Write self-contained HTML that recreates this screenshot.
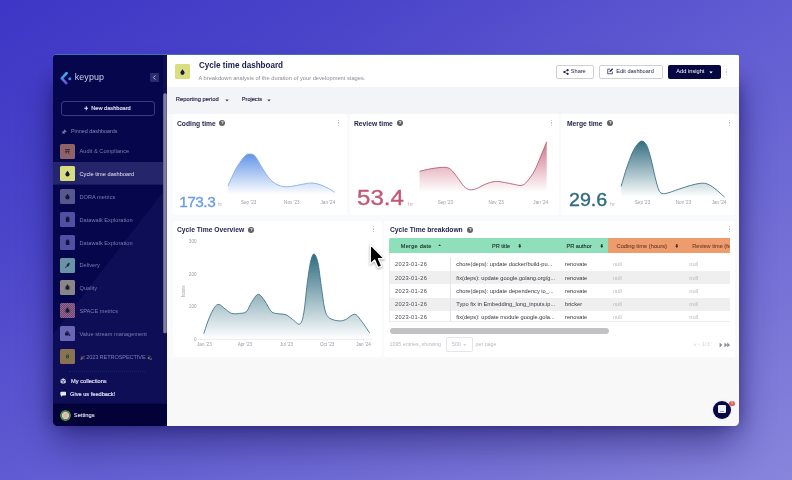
<!DOCTYPE html>
<html><head><meta charset="utf-8"><title>Cycle time dashboard</title>
<style>
*{box-sizing:border-box;margin:0;padding:0}
html,body{width:792px;height:480px;overflow:hidden}
body{position:relative;font-family:"Liberation Sans",sans-serif;background:linear-gradient(148deg,#3d36c6 0%,#4b45ca 25%,#625dd2 52%,#7571d6 78%,#8885dc 100%);}
#shadow{position:absolute;left:66px;top:80px;width:660px;height:334px;border-radius:6px;box-shadow:0 18px 34px 14px rgba(24,18,90,.48),0 8px 14px 2px rgba(24,18,90,.4)}
#shadow2{position:absolute;left:56px;top:84px;width:680px;height:334px;box-shadow:0 2px 14px 4px rgba(24,18,90,.38)}
#win{position:absolute;left:53px;top:55px;width:686px;height:371px;overflow:hidden;border-radius:1.5px 1.5px 4.5px 4.5px;background:#f8f8f8}
#pg{position:absolute;left:-53px;top:-55px;width:792px;height:480px}
#pg div,#pg span,#pg svg{position:absolute}
.t{white-space:nowrap;line-height:1}
/* sidebar */
#sb{left:53px;top:55px;width:114px;height:371px;background:#06064d}
.ic{width:15px;height:15px;left:60px;border-radius:1.5px}
.si{left:79.5px;font-size:5.6px;color:#7c7cae;letter-spacing:.03px}
.card{background:#fff;border-radius:3px}
.ct{font-weight:bold;font-size:7.6px;color:#1e1e50;transform:scaleX(.885);transform-origin:0 50%}
.info{width:6px;height:6px;border-radius:50%;background:#626266;color:#fff;font-size:4.4px;font-weight:bold;text-align:center;line-height:6.2px}
.kb{width:1.3px;height:6px;background:repeating-linear-gradient(#c6c6ce 0 1.3px,transparent 1.3px 2.35px)}
.num{-webkit-text-stroke:.35px currentColor}
.ax{font-size:4.6px;color:#9a9aa4}
.th{font-size:5.6px;color:#1a2e28;top:243.7px;-webkit-text-stroke:.12px currentColor}
.td{font-size:5.7px;color:#34343e}
.nl{font-size:5.6px;color:#b8b8c0}
</style></head><body>
<div id="shadow"></div><div id="shadow2"></div>
<div id="win"><div id="pg">
<!-- SIDEBAR -->
<div id="sb"></div>
<svg style="left:53px;top:55px" width="114" height="371" viewBox="53 55 114 371"><polygon points="167,187 167,404 53,404 53,334" fill="#0e0e57"/><rect x="53" y="162" width="110" height="22.6" fill="#25256b"/><rect x="53" y="403.6" width="114" height="23" fill="#020238"/><rect x="163.2" y="55" width="3.8" height="349" fill="#0e0e52"/><rect x="163.2" y="93.3" width="3.6" height="240" rx="1.6" fill="#7e7e9e"/></svg>

<!-- logo -->
<svg style="left:60.4px;top:71.9px" width="12" height="13" viewBox="0 0 12 13"><defs><linearGradient id="lg" x1="0" y1="0" x2="0" y2="1"><stop offset="0" stop-color="#39b6f0"/><stop offset=".55" stop-color="#4a8ce8"/><stop offset="1" stop-color="#6a4fd0"/></linearGradient></defs><path d="M6.6 1.2 L1.8 6.4 L6.2 11.2" fill="none" stroke="url(#lg)" stroke-width="2.6" stroke-linecap="round" stroke-linejoin="round"/><circle cx="9.8" cy="6.7" r="1.5" fill="#3f8ff0"/></svg>
<div class="t" style="left:74.8px;top:72.7px;font-size:8.9px;color:#cdd0ea;letter-spacing:.1px">keypup</div>
<div style="left:150px;top:73px;width:9px;height:9px;background:#2a2a6c;border-radius:1px"></div>
<svg style="left:150px;top:73px" width="9" height="9" viewBox="0 0 9 9"><path d="M5.4 2.4 L3.4 4.5 L5.4 6.6" fill="none" stroke="#b9b9d8" stroke-width="1"/></svg>
<div style="left:61px;top:100.5px;width:94px;height:15.5px;border:1px solid #3a3a80;border-radius:3px"></div>
<svg style="left:83.6px;top:106.2px" width="4.6" height="4.6" viewBox="0 0 5 5"><path d="M2.5 .3 V4.7 M.3 2.5 H4.7" stroke="#e6e6f6" stroke-width="1.1"/></svg>
<div class="t" style="left:91.2px;top:105.9px;font-size:5.65px;color:#e2e2f4;-webkit-text-stroke:.15px #e2e2f4">New dashboard</div>
<svg style="left:61px;top:128.5px" width="6" height="6" viewBox="0 0 6 6"><path d="M3.4 .6 L5.4 2.6 L4.3 2.9 L3.4 3.8 L3.1 4.9 L1.1 2.9 L2.2 2.6 L3.1 1.7Z M1.9 4.1 L.6 5.4" fill="#77779f" stroke="#77779f" stroke-width=".5"/></svg>
<div class="t" style="left:71px;top:129.2px;font-size:5.4px;color:#8686b4">Pinned dashboards</div>
<div class="ic" style="top:143.5px;background:#8e6266"></div><svg style="left:64px;top:147.5px" width="7" height="7" viewBox="0 0 7 7"><path d="M1 1.6 H6 M1.4 3.2 H5.6 M2 3.2 V5.6 M4.4 3.2 V5 M4.4 5 L5.6 6" stroke="#2a1a30" stroke-width=".8" fill="none"/></svg><div class="t si" style="top:149.4px;">Audit &amp; Compliance</div>
<div class="ic" style="top:166.3px;background:#d8dc80"></div><svg style="left:64px;top:170.3px" width="7" height="7" viewBox="0 0 7 7"><path d="M3.5 .8 C4.5 2.2 5.6 3.2 5.6 4.4 A2.1 2.1 0 0 1 1.4 4.4 C1.4 3.2 2.5 2.2 3.5 .8Z" fill="#15153a"/></svg><div class="t si" style="top:172.2px;color:#e6e6f6">Cycle time dashboard</div>
<div class="ic" style="top:189.1px;background:#57578f"></div><svg style="left:64px;top:193.1px" width="7" height="7" viewBox="0 0 7 7"><path d="M3.5 .8 C4.5 2.2 5.6 3.2 5.6 4.4 A2.1 2.1 0 0 1 1.4 4.4 C1.4 3.2 2.5 2.2 3.5 .8Z" fill="#15153a"/></svg><div class="t si" style="top:195.0px;">DORA metrics</div>
<div class="ic" style="top:211.9px;background:#4f4fa4"></div><svg style="left:64px;top:215.9px" width="7" height="7" viewBox="0 0 7 7"><rect x="1.8" y="1.2" width="3.6" height="4.8" rx=".7" fill="#15153a"/><rect x="2.7" y=".6" width="1.8" height="1.2" fill="#15153a"/></svg><div class="t si" style="top:217.8px;">Datawalk Exploration</div>
<div class="ic" style="top:234.7px;background:#4f4fa4"></div><svg style="left:64px;top:238.7px" width="7" height="7" viewBox="0 0 7 7"><rect x="1.8" y="1.2" width="3.6" height="4.8" rx=".7" fill="#15153a"/><rect x="2.7" y=".6" width="1.8" height="1.2" fill="#15153a"/></svg><div class="t si" style="top:240.6px;">Datawalk Exploration</div>
<div class="ic" style="top:257.5px;background:#6a93a6"></div><svg style="left:64px;top:261.5px" width="7" height="7" viewBox="0 0 7 7"><path d="M5.8 .8 C4 1 2.6 2.4 2.2 4.2 L3 5 C4.6 4.6 5.8 3 5.8 .8Z M1.6 4.6 L1 6.2 L2.6 5.6Z" fill="#1a2a40"/></svg><div class="t si" style="top:263.4px;">Delivery</div>
<div class="ic" style="top:280.3px;background:#8a8688"></div><svg style="left:64px;top:284.3px" width="7" height="7" viewBox="0 0 7 7"><ellipse cx="3.5" cy="3.8" rx="1.7" ry="2.1" fill="#1a1a30"/><circle cx="3.5" cy="1.6" r="1" fill="#1a1a30"/><path d="M.8 3 L6.2 3 M.8 4.8 L6.2 4.8" stroke="#1a1a30" stroke-width=".6"/></svg><div class="t si" style="top:286.2px;">Quality</div>
<div class="ic" style="top:303.1px;background:#86587e;background-image:repeating-conic-gradient(#a8646e 0 25%,#5a4a92 0 50%);background-size:2px 2px"></div><svg style="left:64px;top:307.1px" width="7" height="7" viewBox="0 0 7 7"><ellipse cx="3.5" cy="3.8" rx="1.7" ry="2.1" fill="#1a1a30"/><circle cx="3.5" cy="1.6" r="1" fill="#1a1a30"/><path d="M.8 3 L6.2 3 M.8 4.8 L6.2 4.8" stroke="#1a1a30" stroke-width=".6"/></svg><div class="t si" style="top:309.0px;">SPACE metrics</div>
<div class="ic" style="top:325.9px;background:#6a66b6"></div><svg style="left:64px;top:329.9px" width="7" height="7" viewBox="0 0 7 7"><rect x="1" y="2.4" width="4.4" height="3.2" rx=".6" fill="#15153a"/><path d="M2.4 2.4 V1.4 H4 V2.4" stroke="#15153a" stroke-width=".7" fill="none"/><circle cx="5.4" cy="5" r="1.1" fill="#15153a" stroke="#6a66b6" stroke-width=".4"/></svg><div class="t si" style="top:331.8px;">Value stream management</div>
<div class="ic" style="top:348.7px;background:#8a7052;background-image:repeating-conic-gradient(#9a7444 0 25%,#7a7060 0 50%);background-size:2px 2px"></div><svg style="left:64px;top:352.7px" width="7" height="7" viewBox="0 0 7 7"><ellipse cx="3.5" cy="3.5" rx="1.5" ry="2.3" fill="#1f4a30"/><path d="M3.5 1 V6" stroke="#6a8a50" stroke-width=".4"/></svg><div class="t si" style="top:354.6px;"><span style="position:static;font-size:4.2px;opacity:.65;filter:saturate(.5)">🎉</span> <span style="position:static;letter-spacing:-.1px">2023 RETROSPECTIVE</span> <span style="position:static;font-size:4.2px;opacity:.6;filter:saturate(.4)">💫</span></div>
<div style="left:68.5px;top:370.8px;width:76.5px;height:0;border-top:1px dotted #1e1e68"></div>
<svg style="left:60.4px;top:378.2px" width="6.4" height="6.4" viewBox="0 0 7 7"><path d="M3.5 .4 L6.4 1.9 V5.1 L3.5 6.6 L.6 5.1 V1.9Z" fill="#c9c9e4"/><path d="M.6 1.9 L3.5 3.4 L6.4 1.9 M3.5 3.4 V6.6" stroke="#0c0c54" stroke-width=".6" fill="none"/></svg><div class="t" style="left:71px;top:378.6px;font-size:5.7px;color:#dedef2;-webkit-text-stroke:.2px #dedef2">My collections</div>
<svg style="left:60.4px;top:391.2px" width="6.4" height="6.4" viewBox="0 0 7 7"><path d="M1.4 .8 H5.6 A1 1 0 0 1 6.6 1.8 V4 A1 1 0 0 1 5.6 5 H3 L1.2 6.4 V5 A1 1 0 0 1 .4 4 V1.8 A1 1 0 0 1 1.4 .8Z" fill="#e8e8f8"/></svg><div class="t" style="left:70px;top:391.6px;font-size:5.65px;color:#dedef2;-webkit-text-stroke:.2px #dedef2">Give us feedback!</div>
<div style="left:59.8px;top:409.6px;width:11.4px;height:11.4px;border-radius:50%;background:radial-gradient(#e6b0b8 0 28%,#d8d0b0 30% 44%,#4a8a48 48% 66%,#1f4a2a 70%)"></div>
<div class="t" style="left:73.8px;top:412.5px;font-size:5.75px;color:#dedef2;-webkit-text-stroke:.15px #dedef2">Settings</div>
<!-- main -->
<div id="hdr" style="left:167px;top:55px;width:572px;height:32px;background:#fff"></div>

<div style="left:167px;top:87px;width:572px;height:26.5px;background:#f3f4f8"></div><div style="left:167px;top:113.5px;width:572px;height:244px;background:#f9fafc"></div><!-- header -->
<div style="left:175px;top:64px;width:15px;height:15px;background:#d9de80;border-radius:1.5px"></div>
<svg style="left:180px;top:68.5px" width="5" height="6" viewBox="0 0 5 6"><path d="M2.5 .3 C3.4 1.6 4.6 2.6 4.6 3.8 A2.1 2.1 0 0 1 .4 3.8 C.4 2.6 1.6 1.6 2.5 .3Z" fill="#1a1a3c"/></svg>
<div class="t" style="left:198.5px;top:60.6px;font-size:9.3px;font-weight:bold;color:#1a1a4e;transform:scaleX(.87);transform-origin:0 50%">Cycle time dashboard</div>
<div class="t" style="left:198.5px;top:75.5px;font-size:5.72px;color:#8b8b96">A breakdown analysis of the duration of your development stages.</div>
<div style="left:555.5px;top:64.5px;width:38.5px;height:14px;border:1px solid #cfcfd8;border-radius:2px;background:#fff"></div>
<svg style="left:562.6px;top:68.5px" width="6" height="6" viewBox="0 0 6 6"><circle cx="4.6" cy="1.2" r="1.1" fill="#22224e"/><circle cx="1.3" cy="3" r="1.1" fill="#22224e"/><circle cx="4.6" cy="4.8" r="1.1" fill="#22224e"/><path d="M4.6 1.2 L1.3 3 L4.6 4.8" stroke="#22224e" stroke-width=".6" fill="none"/></svg>
<div class="t" style="left:570.8px;top:68.8px;font-size:5.6px;color:#22224e">Share</div>
<div style="left:599px;top:64.5px;width:64px;height:14px;border:1px solid #cfcfd8;border-radius:2px;background:#fff"></div>
<svg style="left:607px;top:68.3px" width="6.5" height="6.5" viewBox="0 0 7 7"><path d="M3.2 1.2 H.8 V6.2 H5.8 V3.8" fill="none" stroke="#22224e" stroke-width=".8"/><path d="M2.6 4.4 L2.9 3 L5.6 .4 L6.6 1.4 L4 4.1Z" fill="#22224e"/></svg>
<div class="t" style="left:616.2px;top:68.8px;font-size:5.6px;color:#22224e">Edit dashboard</div>
<div style="left:668px;top:64.5px;width:52.5px;height:14px;border-radius:2px;background:#070743"></div>
<div class="t" style="left:676.3px;top:68.8px;font-size:5.7px;color:#fff">Add insight</div>
<svg style="left:709px;top:70.5px" width="4" height="3" viewBox="0 0 4 3"><path d="M.3 .5 H3.7 L2 2.4Z" fill="#fff"/></svg>
<div class="kb" style="left:726px;top:68.5px"></div>
<!-- filters -->
<div class="t" style="left:175.8px;top:96.9px;font-size:5.8px;color:#25254f;-webkit-text-stroke:.15px #25254f">Reporting period</div>
<svg style="left:224.5px;top:98.6px" width="4" height="3" viewBox="0 0 4 3"><path d="M.3 .4 H3.7 L2 2.4Z" fill="#444466"/></svg>
<div class="t" style="left:241.8px;top:96.9px;font-size:5.6px;color:#25254f;-webkit-text-stroke:.15px #25254f">Projects</div>
<svg style="left:267px;top:98.6px" width="4" height="3" viewBox="0 0 4 3"><path d="M.3 .4 H3.7 L2 2.4Z" fill="#444466"/></svg>
<!-- cards row 1 -->
<div class="card" style="left:172.5px;top:114.3px;width:174.5px;height:101px"></div>
<div class="card" style="left:349.5px;top:114.3px;width:209.2px;height:101px"></div>
<div class="card" style="left:561.2px;top:114.3px;width:174.3px;height:101px"></div>
<div class="t ct" style="left:176.5px;top:119.5px">Coding time</div><div class="info" style="left:219.3px;top:120.3px">?</div><div class="kb" style="left:337.8px;top:120.2px"></div>
<div class="t ct" style="left:354.2px;top:119.5px">Review time</div><div class="info" style="left:397px;top:120.3px">?</div><div class="kb" style="left:550.6px;top:120.2px"></div>
<div class="t ct" style="left:566.5px;top:119.5px">Merge time</div><div class="info" style="left:607.3px;top:120.3px">?</div><div class="kb" style="left:728.6px;top:120.2px"></div>
<div class="t num" style="left:179.2px;top:194.4px;font-size:15.4px;color:#6b9de6;letter-spacing:-.5px">173.3</div><div class="t" style="left:218px;top:203.4px;font-size:4.6px;color:#b0b0bc">hr</div>
<div class="t num" style="left:357px;top:186.6px;font-size:21.9px;color:#c25874;transform:scaleX(1.1);transform-origin:0 50%">53.4</div><div class="t" style="left:408px;top:200.6px;font-size:6px;color:#b0b0bc">hr</div>
<div class="t num" style="left:569.4px;top:190.8px;font-size:18.3px;color:#2f6a80;transform:scaleX(1.075);transform-origin:0 50%">29.6</div><div class="t" style="left:610.3px;top:202.3px;font-size:5.2px;color:#b0b0bc">hr</div>
<!-- cards row 2 -->
<div class="card" style="left:172.5px;top:220.5px;width:209px;height:136.5px"></div>
<div class="card" style="left:384.2px;top:220.5px;width:351.3px;height:136.5px"></div>
<div class="t ct" style="left:176.5px;top:225.6px">Cycle Time Overview</div><div class="info" style="left:248.4px;top:226.5px">?</div><div class="kb" style="left:372.8px;top:226.4px"></div>
<div class="t ct" style="left:389.5px;top:225.6px">Cycle Time breakdown</div><div class="info" style="left:467.3px;top:226.5px">?</div><div class="kb" style="left:728.6px;top:226.4px"></div>
<svg style="left:0;top:0" width="792" height="480" viewBox="0 0 792 480"><defs><linearGradient id="g1" gradientUnits="userSpaceOnUse" x1="0" y1="154.0" x2="0" y2="194.5"><stop offset="0" stop-color="#5a8fe6" stop-opacity="0.95"/><stop offset="1" stop-color="#5a8fe6" stop-opacity="0"/></linearGradient><linearGradient id="g2" gradientUnits="userSpaceOnUse" x1="0" y1="141.7" x2="0" y2="192"><stop offset="0" stop-color="#c4506c" stop-opacity="0.8"/><stop offset="1" stop-color="#c4506c" stop-opacity="0"/></linearGradient><linearGradient id="g3" gradientUnits="userSpaceOnUse" x1="0" y1="141.1" x2="0" y2="197"><stop offset="0" stop-color="#2e6a7e" stop-opacity="0.97"/><stop offset="1" stop-color="#2e6a7e" stop-opacity="0"/></linearGradient><linearGradient id="g4" gradientUnits="userSpaceOnUse" x1="0" y1="254.0" x2="0" y2="339"><stop offset="0" stop-color="#2f6c80" stop-opacity="1"/><stop offset="1" stop-color="#2f6c80" stop-opacity="0"/></linearGradient></defs><path d="M227.9 186.0 C229.3 183.0 233.6 172.8 236.4 167.9 C239.2 163.0 242.3 158.7 244.6 156.4 C246.8 154.1 248.1 154.0 249.9 154.0 C251.7 154.0 253.2 154.0 255.3 156.4 C257.4 158.8 260.1 164.7 262.7 168.7 C265.3 172.7 267.9 177.3 270.9 180.2 C273.9 183.1 277.5 184.9 280.8 186.0 C284.1 187.1 287.1 186.8 290.6 186.5 C294.2 186.2 298.5 184.9 302.1 184.3 C305.7 183.7 309.0 182.9 312.0 183.0 C315.0 183.1 317.5 183.8 320.2 184.7 C322.9 185.6 326.0 187.2 328.4 188.4 C330.8 189.7 333.5 191.6 334.5 192.2 L334.5 194.5 L227.9 194.5 Z" fill="url(#g1)"/><path d="M227.9 186.0 C229.3 183.0 233.6 172.8 236.4 167.9 C239.2 163.0 242.3 158.7 244.6 156.4 C246.8 154.1 248.1 154.0 249.9 154.0 C251.7 154.0 253.2 154.0 255.3 156.4 C257.4 158.8 260.1 164.7 262.7 168.7 C265.3 172.7 267.9 177.3 270.9 180.2 C273.9 183.1 277.5 184.9 280.8 186.0 C284.1 187.1 287.1 186.8 290.6 186.5 C294.2 186.2 298.5 184.9 302.1 184.3 C305.7 183.7 309.0 182.9 312.0 183.0 C315.0 183.1 317.5 183.8 320.2 184.7 C322.9 185.6 326.0 187.2 328.4 188.4 C330.8 189.7 333.5 191.6 334.5 192.2" fill="none" stroke="#86aee8" stroke-width="0.9"/><path d="M419.5 171.3 C421.4 170.9 426.7 169.5 430.8 168.8 C434.9 168.1 440.8 167.2 444.1 167.3 C447.4 167.4 448.5 167.7 450.7 169.4 C452.9 171.1 455.1 174.5 457.3 177.3 C459.5 180.1 461.9 184.3 464.0 186.4 C466.1 188.5 467.6 189.3 469.7 189.7 C471.8 190.1 473.6 189.6 476.3 188.7 C479.0 187.8 482.7 185.2 485.8 184.0 C488.9 182.8 492.1 181.8 495.2 181.5 C498.3 181.2 501.5 182.0 504.7 182.5 C507.9 183.0 511.4 183.9 514.2 184.4 C517.0 184.9 519.5 185.9 521.7 185.3 C523.9 184.8 525.2 183.7 527.4 181.1 C529.6 178.5 532.5 174.7 535.0 169.8 C537.5 164.9 540.6 156.5 542.6 151.8 C544.6 147.1 546.0 143.4 546.7 141.7 L546.7 192 L419.5 192 Z" fill="url(#g2)"/><path d="M419.5 171.3 C421.4 170.9 426.7 169.5 430.8 168.8 C434.9 168.1 440.8 167.2 444.1 167.3 C447.4 167.4 448.5 167.7 450.7 169.4 C452.9 171.1 455.1 174.5 457.3 177.3 C459.5 180.1 461.9 184.3 464.0 186.4 C466.1 188.5 467.6 189.3 469.7 189.7 C471.8 190.1 473.6 189.6 476.3 188.7 C479.0 187.8 482.7 185.2 485.8 184.0 C488.9 182.8 492.1 181.8 495.2 181.5 C498.3 181.2 501.5 182.0 504.7 182.5 C507.9 183.0 511.4 183.9 514.2 184.4 C517.0 184.9 519.5 185.9 521.7 185.3 C523.9 184.8 525.2 183.7 527.4 181.1 C529.6 178.5 532.5 174.7 535.0 169.8 C537.5 164.9 540.6 156.5 542.6 151.8 C544.6 147.1 546.0 143.4 546.7 141.7" fill="none" stroke="#b85a72" stroke-width="0.9"/><path d="M621.1 186.4 C622.0 183.6 624.4 174.9 626.2 169.3 C628.1 163.8 630.4 157.2 632.2 153.1 C634.1 149.0 635.7 146.5 637.3 144.5 C638.9 142.5 640.3 140.9 641.9 141.1 C643.5 141.2 645.2 142.4 646.7 145.4 C648.2 148.4 649.6 153.6 651.0 159.0 C652.4 164.4 654.0 172.7 655.3 177.8 C656.6 182.9 657.6 187.2 658.7 189.8 C659.8 192.4 660.5 193.0 662.1 193.5 C663.7 194.0 665.4 193.6 668.1 192.9 C670.8 192.2 674.6 190.6 678.3 189.4 C682.0 188.2 686.6 186.5 690.3 185.5 C694.0 184.5 697.6 183.6 700.5 183.3 C703.4 183.1 705.1 183.2 707.4 184.0 C709.7 184.8 712.1 186.6 714.2 188.1 C716.3 189.6 718.5 191.7 720.2 193.2 C721.9 194.7 723.8 196.4 724.5 197.0 L724.5 197 L621.1 197 Z" fill="url(#g3)"/><path d="M621.1 186.4 C622.0 183.6 624.4 174.9 626.2 169.3 C628.1 163.8 630.4 157.2 632.2 153.1 C634.1 149.0 635.7 146.5 637.3 144.5 C638.9 142.5 640.3 140.9 641.9 141.1 C643.5 141.2 645.2 142.4 646.7 145.4 C648.2 148.4 649.6 153.6 651.0 159.0 C652.4 164.4 654.0 172.7 655.3 177.8 C656.6 182.9 657.6 187.2 658.7 189.8 C659.8 192.4 660.5 193.0 662.1 193.5 C663.7 194.0 665.4 193.6 668.1 192.9 C670.8 192.2 674.6 190.6 678.3 189.4 C682.0 188.2 686.6 186.5 690.3 185.5 C694.0 184.5 697.6 183.6 700.5 183.3 C703.4 183.1 705.1 183.2 707.4 184.0 C709.7 184.8 712.1 186.6 714.2 188.1 C716.3 189.6 718.5 191.7 720.2 193.2 C721.9 194.7 723.8 196.4 724.5 197.0" fill="none" stroke="#3a7084" stroke-width="0.9"/><path d="M203.8 333.6 C204.7 331.0 207.3 322.5 209.1 318.2 C210.9 313.9 212.8 309.9 214.4 307.6 C216.0 305.3 217.1 304.2 218.9 304.4 C220.7 304.6 222.9 307.4 225.0 308.9 C227.1 310.4 229.3 312.6 231.7 313.4 C234.1 314.1 237.2 313.7 239.6 313.4 C242.0 313.1 244.3 313.5 246.3 311.6 C248.3 309.8 249.6 305.2 251.6 302.3 C253.6 299.4 256.0 294.5 258.2 294.3 C260.4 294.1 262.6 298.1 264.8 301.0 C267.0 303.9 269.2 309.5 271.4 311.6 C273.6 313.7 275.7 313.2 278.1 313.7 C280.5 314.2 283.6 313.8 286.0 314.8 C288.4 315.8 290.4 318.0 292.7 319.5 C295.0 321.0 297.9 325.1 299.8 324.0 C301.7 322.9 302.6 319.6 303.8 312.9 C305.0 306.2 306.1 292.1 307.2 283.7 C308.3 275.3 309.3 267.4 310.4 262.5 C311.5 257.6 312.6 254.0 313.9 254.0 C315.1 254.0 316.7 257.1 317.9 262.5 C319.1 267.9 320.1 278.4 321.3 286.4 C322.5 294.3 323.6 304.9 325.0 310.2 C326.4 315.5 327.4 316.4 329.8 318.2 C332.2 320.0 336.5 320.7 339.1 320.9 C341.8 321.1 343.1 320.6 345.7 319.5 C348.2 318.4 352.0 314.2 354.4 314.2 C356.8 314.2 357.8 316.4 360.3 319.5 C362.8 322.6 368.1 330.6 369.6 332.8 L369.6 339 L203.8 339 Z" fill="url(#g4)"/><path d="M203.8 333.6 C204.7 331.0 207.3 322.5 209.1 318.2 C210.9 313.9 212.8 309.9 214.4 307.6 C216.0 305.3 217.1 304.2 218.9 304.4 C220.7 304.6 222.9 307.4 225.0 308.9 C227.1 310.4 229.3 312.6 231.7 313.4 C234.1 314.1 237.2 313.7 239.6 313.4 C242.0 313.1 244.3 313.5 246.3 311.6 C248.3 309.8 249.6 305.2 251.6 302.3 C253.6 299.4 256.0 294.5 258.2 294.3 C260.4 294.1 262.6 298.1 264.8 301.0 C267.0 303.9 269.2 309.5 271.4 311.6 C273.6 313.7 275.7 313.2 278.1 313.7 C280.5 314.2 283.6 313.8 286.0 314.8 C288.4 315.8 290.4 318.0 292.7 319.5 C295.0 321.0 297.9 325.1 299.8 324.0 C301.7 322.9 302.6 319.6 303.8 312.9 C305.0 306.2 306.1 292.1 307.2 283.7 C308.3 275.3 309.3 267.4 310.4 262.5 C311.5 257.6 312.6 254.0 313.9 254.0 C315.1 254.0 316.7 257.1 317.9 262.5 C319.1 267.9 320.1 278.4 321.3 286.4 C322.5 294.3 323.6 304.9 325.0 310.2 C326.4 315.5 327.4 316.4 329.8 318.2 C332.2 320.0 336.5 320.7 339.1 320.9 C341.8 321.1 343.1 320.6 345.7 319.5 C348.2 318.4 352.0 314.2 354.4 314.2 C356.8 314.2 357.8 316.4 360.3 319.5 C362.8 322.6 368.1 330.6 369.6 332.8" fill="none" stroke="#3f7488" stroke-width="0.9"/><path d="M198 339.4 H372" stroke="#e3e5ea" stroke-width=".7"/><path d="M204.4 339.4 V341.2" stroke="#d5d7de" stroke-width=".6"/><path d="M244.9 339.4 V341.2" stroke="#d5d7de" stroke-width=".6"/><path d="M286.6 339.4 V341.2" stroke="#d5d7de" stroke-width=".6"/><path d="M327.1 339.4 V341.2" stroke="#d5d7de" stroke-width=".6"/><path d="M363.5 339.4 V341.2" stroke="#d5d7de" stroke-width=".6"/></svg><div class="t ax" style="left:233.7px;top:201.3px;width:30px;text-align:center">Sep '23</div><div class="t ax" style="left:276.8px;top:201.3px;width:30px;text-align:center">Nov '23</div><div class="t ax" style="left:312.9px;top:201.3px;width:30px;text-align:center">Jan '24</div><div class="t ax" style="left:430.4px;top:201.0px;width:30px;text-align:center">Sep '23</div><div class="t ax" style="left:481.2px;top:201.0px;width:30px;text-align:center">Nov '23</div><div class="t ax" style="left:525.7px;top:201.0px;width:30px;text-align:center">Jan '24</div><div class="t ax" style="left:627.5px;top:201.4px;width:30px;text-align:center">Sep '23</div><div class="t ax" style="left:668.5px;top:201.4px;width:30px;text-align:center">Nov '23</div><div class="t ax" style="left:704.0px;top:201.4px;width:30px;text-align:center">Jan '24</div><div class="t ax" style="left:189.4px;top:343.1px;width:30px;text-align:center">Jan '23</div><div class="t ax" style="left:229.9px;top:343.1px;width:30px;text-align:center">Apr '23</div><div class="t ax" style="left:271.6px;top:343.1px;width:30px;text-align:center">Jul '23</div><div class="t ax" style="left:312.1px;top:343.1px;width:30px;text-align:center">Oct '23</div><div class="t ax" style="left:348.5px;top:343.1px;width:30px;text-align:center">Jan '24</div><div class="t ax" style="left:176.5px;top:240.4px;width:20px;text-align:right">300</div><div class="t ax" style="left:176.5px;top:273.1px;width:20px;text-align:right">200</div><div class="t ax" style="left:176.5px;top:305.4px;width:20px;text-align:right">100</div><div class="t ax" style="left:176.5px;top:337.5px;width:20px;text-align:right">0</div><div class="t ax" style="left:174px;top:289.4px;width:20px;text-align:center;transform:rotate(-90deg)">hours</div>
<div style="left:389.3px;top:238.2px;width:218.5px;height:15.1px;background:#8fe0ba;border-radius:1.5px 0 0 0"></div><div style="left:607.8px;top:238.2px;width:122px;height:15.1px;background:#ee9b6e"></div><div style="left:389.3px;top:271.2px;width:340.5px;height:13.2px;background:#efeff0"></div><div style="left:389.3px;top:297.6px;width:340.5px;height:13.2px;background:#efeff0"></div><div style="left:389.3px;top:253.2px;width:340.5px;height:70px;border-left:1px solid #ececf0"></div><div style="left:450px;top:257px;width:0;height:65px;border-left:1px solid #e3e3e8"></div><div class="t th" style="left:400.8px;letter-spacing:.25px">Merge date</div><svg style="left:437.6px;top:243.8px" width="3.4" height="2.6" viewBox="0 0 4 3"><path d="M.2 2.8 H3.8 L2 .3Z" fill="#1f3a33"/></svg><div class="t th" style="left:492px">PR title</div><svg style="left:517.5px;top:243.8px" width="3.6" height="4" viewBox="0 0 4 4.4"><path d="M1.3 0 H2.7 V2 H3.9 L2 4.3 L.1 2 H1.3Z" fill="#1f3a33"/></svg><div class="t th" style="left:566.5px">PR author</div><svg style="left:599.5px;top:243.8px" width="3.6" height="4" viewBox="0 0 4 4.4"><path d="M1.3 0 H2.7 V2 H3.9 L2 4.3 L.1 2 H1.3Z" fill="#1f3a33"/></svg><div class="t th" style="left:616.5px;color:#74462c;font-size:5.75px">Coding time (hours)</div><svg style="left:674.5px;top:243.8px" width="3.6" height="4" viewBox="0 0 4 4.4"><path d="M1.3 0 H2.7 V2 H3.9 L2 4.3 L.1 2 H1.3Z" fill="#4a2a18"/></svg><div style="left:690px;top:238.2px;width:39.8px;height:15.6px;overflow:hidden"><div class="t th" style="left:2.3px;top:5.5px;color:#74462c">Review time (hours)</div></div><div class="t td" style="left:395px;top:262.4px;color:#4c4c56;letter-spacing:.3px">2023-01-26</div><div class="t td" style="left:456.3px;top:262.4px">chore(deps): update docker/build-pu...</div><div class="t td" style="left:565px;top:262.4px">renovate</div><div class="t nl" style="left:613px;top:262.4px">null</div><div class="t nl" style="left:689.3px;top:262.4px">null</div><div class="t td" style="left:395px;top:275.6px;color:#4c4c56;letter-spacing:.3px">2023-01-26</div><div class="t td" style="left:456.3px;top:275.6px">fix(deps): update google.golang.org/g...</div><div class="t td" style="left:565px;top:275.6px">renovate</div><div class="t nl" style="left:613px;top:275.6px">null</div><div class="t nl" style="left:689.3px;top:275.6px">null</div><div class="t td" style="left:395px;top:288.8px;color:#4c4c56;letter-spacing:.3px">2023-01-26</div><div class="t td" style="left:456.3px;top:288.8px">chore(deps): update dependency io_...</div><div class="t td" style="left:565px;top:288.8px">renovate</div><div class="t nl" style="left:613px;top:288.8px">null</div><div class="t nl" style="left:689.3px;top:288.8px">null</div><div class="t td" style="left:395px;top:302.0px;color:#4c4c56;letter-spacing:.3px">2023-01-26</div><div class="t td" style="left:456.3px;top:302.0px">Typo fix in Embedding_long_inputs.ip...</div><div class="t td" style="left:565px;top:302.0px">bricker</div><div class="t nl" style="left:613px;top:302.0px">null</div><div class="t nl" style="left:689.3px;top:302.0px">null</div><div class="t td" style="left:395px;top:315.2px;color:#4c4c56;letter-spacing:.3px">2023-01-26</div><div class="t td" style="left:456.3px;top:315.2px">fix(deps): update module google.gola...</div><div class="t td" style="left:565px;top:315.2px">renovate</div><div class="t nl" style="left:613px;top:315.2px">null</div><div class="t nl" style="left:689.3px;top:315.2px">null</div><div style="left:386px;top:321px;width:349px;height:6.5px;background:#fff"></div><div style="left:389.3px;top:321px;width:340.5px;height:0;border-top:1px solid #ececf0"></div><div style="left:390px;top:327.8px;width:219px;height:6px;border-radius:3px;background:#c2c2c4"></div><div class="t" style="left:389.5px;top:342px;font-size:5.3px;color:#b9b9c2">1095 entries, showing</div><div style="left:446.3px;top:337.2px;width:26.3px;height:14.8px;border:1px solid #e4e4ea;border-radius:2px"></div><div class="t" style="left:452px;top:342px;font-size:5.3px;color:#b9b9c2">500</div><svg style="left:462.5px;top:343.8px" width="3.4" height="2.4" viewBox="0 0 4 3"><path d="M.3 .4 H3.7 L2 2.4Z" fill="#c4c4cc"/></svg><div class="t" style="left:475.5px;top:342px;font-size:5.3px;color:#b9b9c2">per page</div><div class="t" style="left:693.5px;top:342.3px;font-size:5px;color:#d0d0d6;letter-spacing:.3px">« ‹ 1/3</div><svg style="left:718.5px;top:342.2px" width="12" height="6" viewBox="0 0 12 6"><path d="M.6 .4 L3.4 3 L.6 5.6Z M5.4 .4 L8.2 3 L5.4 5.6Z M8.2 .4 L11 3 L8.2 5.6Z" fill="#8c8c98"/></svg>
<!-- cursor -->
<svg style="left:367px;top:241.6px;overflow:visible" width="20" height="28" viewBox="-3 -2.5 20 28"><path d="M0.3 0 V19.6 L4.7 15.5 L8 23.2 L11.7 21.6 L8.5 14.2 H14.3 Z" fill="#000" stroke="#fff" stroke-width="1.3" stroke-linejoin="round" style="filter:drop-shadow(0 1px 1px rgba(0,0,0,.35))"/></svg>
<!-- chat -->
<div style="left:713.2px;top:400.6px;width:18.2px;height:18.2px;border-radius:50%;background:#070743;box-shadow:0 0 3px rgba(0,0,0,.12)"></div>
<div style="left:718.1px;top:405.3px;width:8px;height:8px;border-radius:1.3px;background:#eef0f8"></div>
<div style="left:719.8px;top:410.5px;width:4.6px;height:.8px;background:#9a9ab6"></div>
<div class="t" style="left:729.2px;top:400.6px;width:5.4px;height:5.4px;border-radius:50%;background:#dc645e;color:#fff;font-size:3.6px;line-height:5.4px;text-align:center">1</div>
</div></div>
<div id="topline" style="position:absolute;left:55px;top:54px;width:683px;height:1px;background:#3f86a8;opacity:.75"></div>
</body></html>
